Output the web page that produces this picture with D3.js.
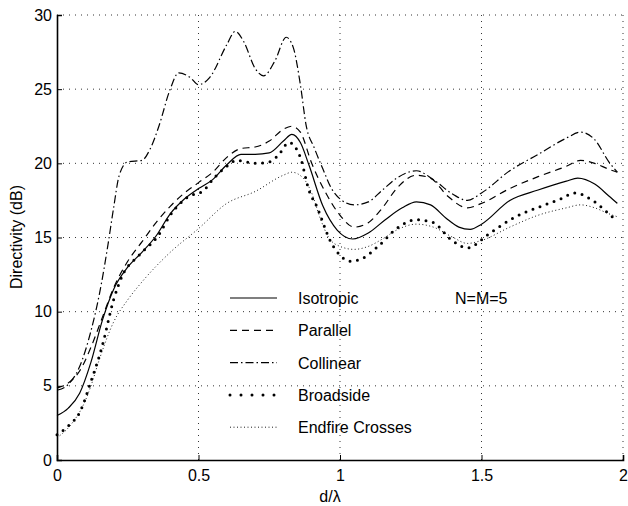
<!DOCTYPE html>
<html>
<head>
<meta charset="utf-8">
<script src="https://cdn.jsdelivr.net/npm/d3@7"></script>
<style>
  body { margin: 0; background: #fff; }
  svg text { font-family: "Liberation Sans", Arial, sans-serif; fill: #000; }
</style>
</head>
<body>
<svg id="chart" width="628" height="506"></svg>
<script>
// values
const isoX = [0, 0.04, 0.08, 0.12, 0.16, 0.2, 0.25, 0.3, 0.35, 0.4, 0.45, 0.5, 0.55, 0.6, 0.65, 0.7, 0.75, 0.8, 0.83, 0.86, 0.89, 0.94, 0.99, 1.045, 1.1, 1.16, 1.22, 1.27, 1.32, 1.375, 1.42, 1.46, 1.5, 1.6, 1.7, 1.8, 1.84, 1.9, 1.95, 1.98];
const isoY = [3.0, 3.5, 4.5, 6.6, 9.4, 11.5, 13.0, 14.0, 15.1, 16.6, 17.6, 18.3, 18.9, 19.9, 20.6, 20.6, 20.7, 21.5, 21.95, 21.4, 19.9, 17.1, 15.5, 14.9, 15.3, 16.2, 17.0, 17.4, 17.2, 16.3, 15.7, 15.55, 15.9, 17.5, 18.2, 18.8, 19.0, 18.6, 17.8, 17.3];

const parX = [0, 0.04, 0.08, 0.12, 0.16, 0.2, 0.25, 0.3, 0.35, 0.4, 0.45, 0.5, 0.55, 0.6, 0.65, 0.7, 0.75, 0.8, 0.83, 0.86, 0.9, 0.95, 1.0, 1.05, 1.1, 1.15, 1.2, 1.27, 1.32, 1.38, 1.45, 1.5, 1.6, 1.7, 1.8, 1.85, 1.9, 1.95, 1.98];
const parY = [4.85, 5.2, 6.0, 7.6, 9.6, 11.6, 13.4, 14.7, 16.0, 17.1, 18.0, 18.7, 19.4, 20.4, 21.0, 21.1, 21.5, 22.3, 22.5, 22.1, 20.0, 18.0, 16.5, 15.7, 16.0, 17.0, 18.3, 19.2, 19.0, 17.8, 17.0, 17.3, 18.3, 19.1, 19.8, 20.2, 20.0, 19.6, 19.4];

const colX = [0, 0.04, 0.08, 0.12, 0.15, 0.18, 0.2, 0.22, 0.25, 0.3, 0.33, 0.36, 0.4, 0.43, 0.47, 0.5, 0.54, 0.6, 0.63, 0.66, 0.7, 0.73, 0.77, 0.81, 0.835, 0.86, 0.88, 0.91, 0.94, 0.97, 1.0, 1.05, 1.1, 1.15, 1.2, 1.27, 1.33, 1.4, 1.45, 1.5, 1.6, 1.7, 1.8, 1.85, 1.9, 1.95, 1.98];
const colY = [4.7, 5.1, 6.3, 8.7, 11.2, 14.5, 17.0, 19.2, 20.1, 20.2, 21.0, 22.5, 25.0, 26.1, 25.8, 25.3, 25.8, 28.0, 28.9, 28.2, 26.4, 25.9, 26.9, 28.5, 27.8, 25.3, 22.6, 21.0, 19.6, 18.3, 17.6, 17.2, 17.4, 18.2, 19.0, 19.5, 18.9, 17.9, 17.5, 18.0, 19.5, 20.6, 21.7, 22.1, 21.6, 20.1, 19.4];

const broX = [0, 0.04, 0.08, 0.12, 0.16, 0.2, 0.23, 0.29, 0.36, 0.4, 0.46, 0.52, 0.55, 0.6, 0.635, 0.7, 0.75, 0.78, 0.82, 0.86, 0.89, 0.92, 0.94, 0.96, 0.98, 1.0, 1.04, 1.08, 1.14, 1.2, 1.27, 1.33, 1.39, 1.45, 1.53, 1.62, 1.71, 1.78, 1.83, 1.9, 1.95, 1.98];
const broY = [1.7, 2.3, 3.2, 5.3, 7.7, 10.8, 12.4, 13.8, 15.2, 16.5, 17.7, 18.2, 18.9, 19.8, 20.2, 20.0, 20.1, 20.5, 21.4, 20.4, 18.2, 17.0, 16.0, 15.0, 14.3, 13.8, 13.4, 13.6, 14.5, 15.6, 16.2, 16.0, 14.9, 14.3, 15.3, 16.4, 17.1, 17.6, 18.0, 17.4, 16.6, 16.1];

const endX = [0, 0.05, 0.1, 0.12, 0.15, 0.2, 0.25, 0.3, 0.4, 0.5, 0.6, 0.7, 0.8, 0.83, 0.87, 0.9, 0.93, 0.96, 1.0, 1.05, 1.1, 1.15, 1.2, 1.27, 1.33, 1.4, 1.45, 1.5, 1.6, 1.7, 1.8, 1.85, 1.9, 1.95, 1.98];
const endY = [1.5, 2.4, 4.0, 5.0, 6.8, 9.3, 10.8, 12.0, 14.0, 15.6, 17.3, 18.1, 19.2, 19.4, 19.0, 18.0, 16.3, 15.0, 14.4, 14.2, 14.4, 14.9, 15.5, 15.9, 15.7, 15.0, 14.6, 14.8, 15.7, 16.5, 17.0, 17.2, 17.0, 16.6, 16.4];

const xTicks = [0, 0.5, 1, 1.5, 2];
const yTicks = [0, 5, 10, 15, 20, 25, 30];
const names = ["Isotropic", "Parallel", "Collinear", "Broadside", "Endfire Crosses"];

const series = [
  { name: names[0], xs: isoX, ys: isoY, dash: null, w: 1.2 },
  { name: names[1], xs: parX, ys: parY, dash: "7 5", w: 1.2 },
  { name: names[2], xs: colX, ys: colY, dash: "8 3 1.5 3", w: 1.2 },
  { name: names[3], xs: broX, ys: broY, dash: "0 7.5", w: 3, cap: "round" },
  { name: names[4], xs: endX, ys: endY, dash: "1 2.5", w: 0.9 }
];

const fs = 16;
const svg = d3.select("#chart");
const x = d3.scaleLinear().domain([0, 2]).range([57, 623]);
const y = d3.scaleLinear().domain([0, 30]).range([460, 15]);

// grid
const grid = svg.append("g").attr("stroke", "#000").attr("stroke-width", 0.8)
  .attr("stroke-dasharray", "1 5");
grid.selectAll("line.gx").data(xTicks.slice(1)).join("line")
  .attr("x1", d => x(d)).attr("x2", d => x(d)).attr("y1", y(0)).attr("y2", y(30));
grid.selectAll("line.gy").data(yTicks.slice(1)).join("line")
  .attr("class", "gy")
  .attr("x1", x(0)).attr("x2", x(2)).attr("y1", d => y(d)).attr("y2", d => y(d));

// axes
const xAxis = svg.append("g").attr("transform", `translate(0,${y(0)})`)
  .call(d3.axisBottom(x).tickValues(xTicks).tickSize(-5).tickPadding(10).tickFormat(d3.format("")));
const yAxis = svg.append("g").attr("transform", `translate(${x(0)},0)`)
  .call(d3.axisLeft(y).tickValues(yTicks).tickSize(-5).tickPadding(5));
[xAxis, yAxis].forEach(a => {
  a.select(".domain").attr("stroke", "#000").attr("stroke-width", 1.6);
  a.selectAll(".tick line").attr("stroke", "#000");
  a.selectAll("text").attr("font-size", fs).attr("font-family", "Liberation Sans, Arial, sans-serif");
});

// curves
const line = d3.line().curve(d3.curveMonotoneX);
svg.append("g").attr("fill", "none").attr("stroke", "#000")
  .selectAll("path").data(series).join("path")
  .attr("d", s => line(s.xs.map((v, i) => [x(v), y(s.ys[i])])))
  .attr("stroke-width", s => s.w)
  .attr("stroke-dasharray", s => s.dash)
  .attr("stroke-linecap", s => s.cap || "butt");

// legend
const lg = svg.append("g");
const rows = lg.selectAll("g").data(series).join("g")
  .attr("transform", (s, i) => `translate(230,${298 + i * 32.3})`);
rows.append("line").attr("x1", 0).attr("x2", 47).attr("y1", 0).attr("y2", 0)
  .attr("stroke", "#000")
  .attr("stroke-width", s => s.w)
  .attr("stroke-dasharray", (s, i) => i === 3 ? "0 11" : s.dash)
  .attr("stroke-linecap", s => s.cap || "butt");
rows.append("text").attr("x", 68).attr("y", 6).attr("font-size", fs).text(s => s.name);

svg.append("text").attr("x", 455).attr("y", 304).attr("font-size", fs).text("N=M=5");

// labels
svg.append("text").attr("x", 330).attr("y", 502).attr("text-anchor", "middle")
  .attr("font-size", fs).text("d/λ");
svg.append("text").attr("transform", "translate(22,237) rotate(-90)")
  .attr("text-anchor", "middle").attr("font-size", fs).text("Directivity (dB)");
</script>
</body>
</html>
